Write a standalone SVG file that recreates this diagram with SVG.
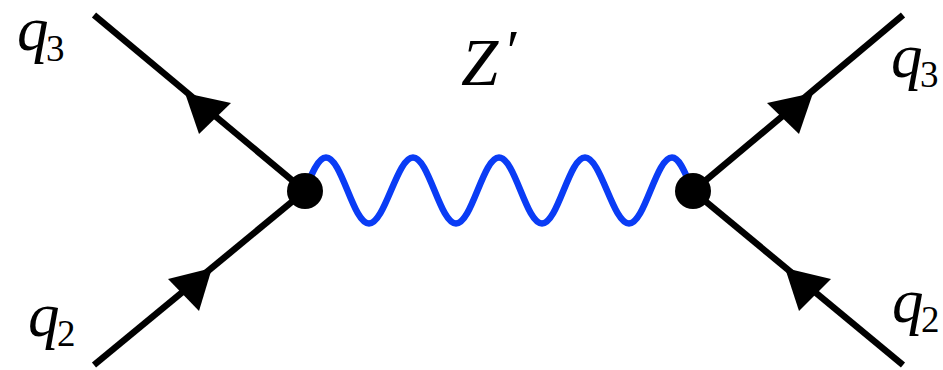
<svg xmlns="http://www.w3.org/2000/svg" width="943" height="370" viewBox="0 0 943 370">
<style>
.f{fill:none;stroke:#000;stroke-width:6.5}
.w{fill:none;stroke:#0a3cf5;stroke-width:6.5}
.h{fill:#000;stroke:none}
.v{fill:#000}
text{font-family:"Liberation Serif","Times New Roman",serif;fill:#000}
.m{font-style:italic;font-size:63px}
.s{font-style:normal;font-size:37px}
</style>
<rect width="943" height="370" fill="#fff"/>
<g id="connectors">
<path id="boson" class="w" d="M305 191C311 175 318 157.500 326 157.500C342 157.500 353 223.500 369 223.500C385 223.500 397 157.500 413 157.500C429 157.500 440 223.500 456 223.500C472 223.500 483 157.500 499 157.500C515 157.500 526 223.500 542 223.500C558 223.500 569 157.500 585 157.500C601 157.500 613 223.500 629 223.500C645 223.500 656 157.500 672 157.500C680 157.500 686 175 693 191"/>
<line class="f" x1="94" y1="15" x2="305" y2="191"/>
<line class="f" x1="94" y1="365" x2="305" y2="191"/>
<line class="f" x1="903" y1="15" x2="693" y2="191"/>
<line class="f" x1="903" y1="365" x2="693" y2="191"/>
<polygon class="h" points="185,93 231,103 199,134"/>
<polygon class="h" points="212,268 168,279 199,311"/>
<polygon class="h" points="813,93 767,103 799,134"/>
<polygon class="h" points="785,268 831,279 799,311"/>
</g>
<g id="vertex-left"><circle class="v" cx="305" cy="191" r="18"/></g>
<g id="vertex-right"><circle class="v" cx="693" cy="191" r="18"/></g>
<g id="label-q3-left"><text class="m" x="17" y="50">q<tspan class="s" x="46" y="61">3</tspan></text></g>
<g id="label-q2-left"><text class="m" x="28" y="336">q<tspan class="s" x="57" y="346">2</tspan></text></g>
<g id="label-q3-right"><text class="m" x="891" y="77">q<tspan class="s" x="920" y="87">3</tspan></text></g>
<g id="label-q2-right"><text class="m" x="892" y="322">q<tspan class="s" x="921" y="332">2</tspan></text></g>
<g id="label-z"><text class="m" x="461" y="85" style="font-size:67px">Z<tspan x="503" y="71" style="font-size:60px">′</tspan></text></g>
</svg>
